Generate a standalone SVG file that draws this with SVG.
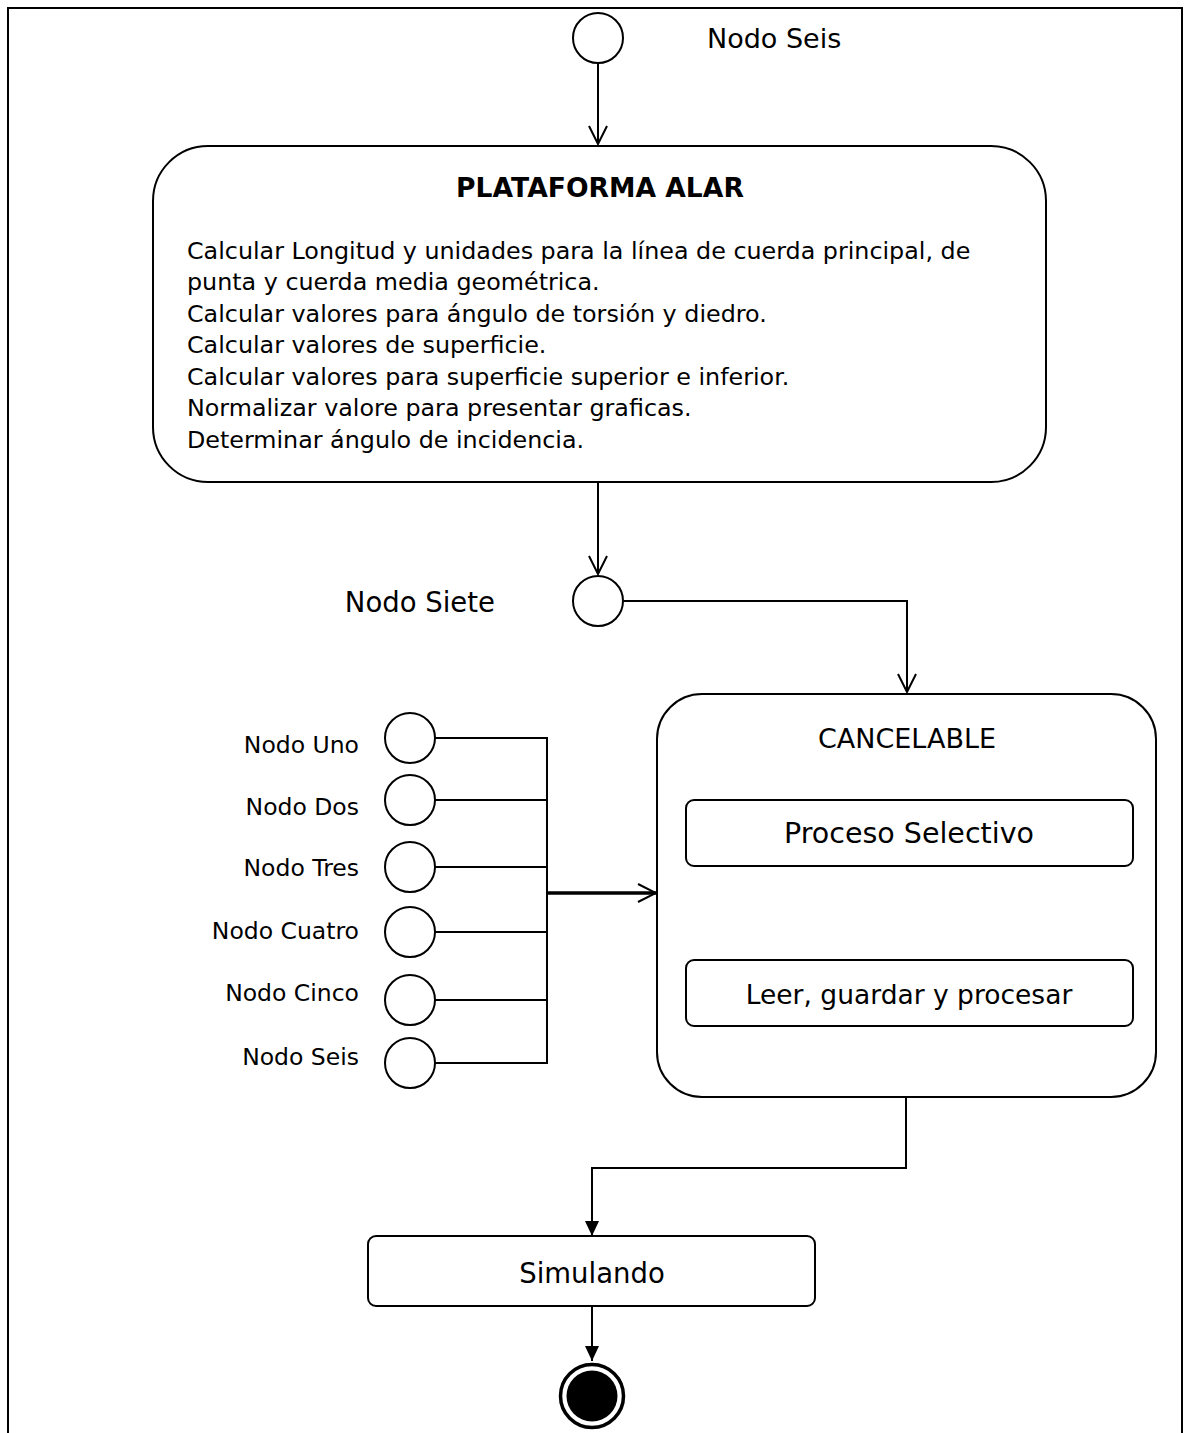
<svg xmlns="http://www.w3.org/2000/svg" width="1189" height="1433" viewBox="0 0 1189 1433">
  <style>
    text { font-family: "DejaVu Sans", "Liberation Sans", sans-serif; fill: #000; }
    .frame { fill: none; stroke: #000; stroke-width: 2; }
    .box { fill: #fff; stroke: #000; stroke-width: 2; }
    .node { fill: #fff; stroke: #000; stroke-width: 2; }
    .edge { fill: none; stroke: #000; stroke-width: 2; }
    .thick { fill: none; stroke: #000; stroke-width: 3.5; }
    .label { font-size: 23.5px; }
    .big { font-size: 27px; }
    .body { font-size: 23.8px; }
    .title { font-size: 26.6px; font-weight: bold; }
    .act { font-size: 27.5px; }
  </style>
  <defs>
    <marker id="open" markerUnits="userSpaceOnUse" viewBox="0 0 20 20" refX="19" refY="10" markerWidth="20" markerHeight="20" orient="auto">
      <path d="M1,1 L19,10 L1,19" fill="none" stroke="#000" stroke-width="2"/>
    </marker>
    <marker id="solid" markerUnits="userSpaceOnUse" viewBox="0 0 16 16" refX="15" refY="8" markerWidth="16" markerHeight="16" orient="auto">
      <path d="M0,1 L15,8 L0,15 Z" fill="#000"/>
    </marker>
  </defs>

  <!-- outer frame, open at the bottom -->
  <path class="frame" d="M8,1433 L8,8 L1182,8 L1182,1433"/>

  <!-- connectors -->
  <g id="connectors">
    <line class="edge" x1="598" y1="63" x2="598" y2="144" marker-end="url(#open)"/>
    <line class="edge" x1="598" y1="482" x2="598" y2="574" marker-end="url(#open)"/>
    <polyline class="edge" points="624,601 907,601 907,692" marker-end="url(#open)"/>
    <polyline class="edge" points="435,738 547,738"/>
    <polyline class="edge" points="435,800 547,800"/>
    <polyline class="edge" points="435,867 547,867"/>
    <polyline class="edge" points="435,932 547,932"/>
    <polyline class="edge" points="435,1000 547,1000"/>
    <polyline class="edge" points="435,1063 547,1063"/>
    <line class="edge" x1="547" y1="737" x2="547" y2="1064"/>
    <line class="thick" x1="547" y1="893" x2="656" y2="893" marker-end="url(#open)"/>
    <line class="edge" x1="909" y1="866" x2="909" y2="960" marker-end="url(#solid)"/>
    <polyline class="edge" points="906,1097 906,1168 592,1168 592,1236" marker-end="url(#solid)"/>
    <line class="edge" x1="592" y1="1306" x2="592" y2="1361" marker-end="url(#solid)"/>
  </g>

  <!-- initial node at the top -->
  <g id="nodo-seis-top">
    <circle class="node" cx="598" cy="38" r="25"/>
    <text class="big" x="707" y="48">Nodo Seis</text>
  </g>

  <!-- wing platform activity -->
  <g id="plataforma-alar">
    <rect class="box" x="153" y="146" width="893" height="336" rx="55" ry="55"/>
    <text class="title" x="600" y="197" text-anchor="middle">PLATAFORMA ALAR</text>
    <text class="body" x="187" y="259">Calcular Longitud y unidades para la línea de cuerda principal, de</text>
    <text class="body" x="187" y="290">punta y cuerda media geométrica.</text>
    <text class="body" x="187" y="322">Calcular valores para ángulo de torsión y diedro.</text>
    <text class="body" x="187" y="353">Calcular valores de superficie.</text>
    <text class="body" x="187" y="385">Calcular valores para superficie superior e inferior.</text>
    <text class="body" x="187" y="416">Normalizar valore para presentar graficas.</text>
    <text class="body" x="187" y="448">Determinar ángulo de incidencia.</text>
  </g>

  <g id="nodo-siete">
    <circle class="node" cx="598" cy="601" r="25"/>
    <text class="big" x="495" y="612" text-anchor="end" style="font-size:27.5px">Nodo Siete</text>
  </g>

  <!-- input nodes on the left -->
  <g id="nodo-uno">
    <circle class="node" cx="410" cy="738" r="25"/>
    <text class="label" x="359" y="753" text-anchor="end">Nodo Uno</text>
  </g>
  <g id="nodo-dos">
    <circle class="node" cx="410" cy="800" r="25"/>
    <text class="label" x="359" y="815" text-anchor="end">Nodo Dos</text>
  </g>
  <g id="nodo-tres">
    <circle class="node" cx="410" cy="867" r="25"/>
    <text class="label" x="359" y="876" text-anchor="end">Nodo Tres</text>
  </g>
  <g id="nodo-cuatro">
    <circle class="node" cx="410" cy="932" r="25"/>
    <text class="label" x="359" y="939" text-anchor="end">Nodo Cuatro</text>
  </g>
  <g id="nodo-cinco">
    <circle class="node" cx="410" cy="1000" r="25"/>
    <text class="label" x="359" y="1001" text-anchor="end">Nodo Cinco</text>
  </g>
  <g id="nodo-seis">
    <circle class="node" cx="410" cy="1063" r="25"/>
    <text class="label" x="359" y="1065" text-anchor="end">Nodo Seis</text>
  </g>

  <!-- cancelable region with its two actions -->
  <g id="cancelable">
    <rect class="box" x="657" y="694" width="499" height="403" rx="45" ry="45"/>
    <text class="act" x="907" y="748" text-anchor="middle" style="font-size:27px">CANCELABLE</text>
  </g>
  <g id="proceso-selectivo">
    <rect class="box" x="686" y="800" width="447" height="66" rx="8" ry="8"/>
    <text class="act" x="909" y="843" text-anchor="middle" style="font-size:28.5px">Proceso Selectivo</text>
  </g>
  <g id="leer-guardar">
    <rect class="box" x="686" y="960" width="447" height="66" rx="8" ry="8"/>
    <text class="act" x="909" y="1004" text-anchor="middle" style="font-size:26.5px">Leer, guardar y procesar</text>
  </g>

  <g id="simulando">
    <rect class="box" x="368" y="1236" width="447" height="70" rx="8" ry="8"/>
    <text class="act" x="592" y="1283" text-anchor="middle">Simulando</text>
  </g>

  <!-- final node -->
  <g id="final">
    <circle cx="592" cy="1396" r="31.5" fill="#fff" stroke="#000" stroke-width="3.5"/>
    <circle cx="592" cy="1396" r="25.5" fill="#000"/>
  </g>
</svg>
